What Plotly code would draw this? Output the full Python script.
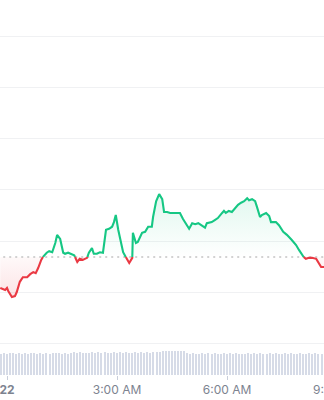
import plotly.graph_objects as go

# ---- data ----
minutes = [-11, -3, 0, 2, 8, 13, 16, 21, 26, 33, 38, 43, 47, 51, 56, 59, 65, 69, 74, 79, 82, 87, 92, 95, 100,
           106, 110, 115, 119, 124, 131, 134, 139, 142, 147, 152, 157, 162, 167, 172, 175, 178, 182, 187, 190,
           196, 200, 205, 206, 211, 214, 221, 226, 231, 237, 239, 244, 249, 254, 257, 262, 267, 275, 283, 288,
           295, 298, 303, 308, 313, 319, 324, 327, 335, 340, 345, 352, 355, 358, 363, 368, 373, 378, 383, 388,
           393, 396, 401, 406, 409, 414, 417, 424, 429, 432, 440, 445, 452, 458, 466, 473, 478, 483, 489, 494,
           499, 506, 511, 514, 519]
prices = [27008, 27004, 27008, 27002, 26990, 26992, 27000, 27020, 27029, 27029, 27035, 27039, 27037, 27047, 27063,
          27069, 27077, 27080, 27078, 27096, 27112, 27104, 27077, 27075, 27077,
          27073, 27072, 27059, 27065, 27063, 27067, 27077, 27086, 27075, 27075, 27078, 27077, 27122, 27124, 27128,
          27137, 27151, 27122, 27096, 27078,
          27065, 27057, 27067, 27116, 27096, 27098, 27116, 27118, 27128, 27128, 27147, 27178, 27192, 27182, 27157,
          27157, 27155, 27155, 27155, 27143,
          27131, 27124, 27135, 27133, 27135, 27131, 27126, 27135, 27137, 27141, 27145, 27155, 27159, 27155, 27159,
          27157, 27165, 27171, 27175, 27178,
          27184, 27180, 27182, 27178, 27167, 27147, 27151, 27155, 27149, 27137, 27137, 27131, 27118, 27112, 27102,
          27092, 27082, 27071, 27065, 27067,
          27067, 27065, 27053, 27049, 27049]
open_price = 27068.6

vol_minutes = list(range(-10, 516, 5))
volumes = [212, 218, 214, 220, 216, 213, 219, 215, 217, 214, 221, 216, 213, 218, 215, 219, 214, 217, 220, 216, 213, 218, 215,
           223, 226, 222, 228, 224, 225, 221, 227, 223, 226, 224, 229, 225, 222, 227, 224, 226, 223, 228, 225, 224, 227,
           222, 226, 225, 229, 224, 227, 226, 228,
           236, 240, 238, 242, 239, 237, 241, 236,
           216, 214, 218, 213, 215, 217, 212, 216, 214, 219, 213, 215, 217, 212, 216, 214, 218, 213, 215, 212, 217,
           214, 216, 213, 218, 215, 212, 216, 214, 217, 213, 215, 218, 212, 216, 214, 213, 217, 215, 212, 216, 214,
           218, 213, 215]

tick_vals = [0, 180, 360, 540]
tick_text = ["<b>22</b>", "3:00 AM", "6:00 AM", "9:00 AM"]

GREEN = "#16c784"
RED = "#ea3943"

# ---- split the line at the open-price baseline ----
sx, up_line, dn_line, up_fill, dn_fill = [], [], [], [], []
for i in range(len(minutes)):
    x, y = minutes[i], prices[i]
    sx.append(x)
    up_line.append(y if y >= open_price else None)
    dn_line.append(y if y <= open_price else None)
    up_fill.append(max(y, open_price))
    dn_fill.append(min(y, open_price))
    if i + 1 < len(minutes):
        y2 = prices[i + 1]
        if (y - open_price) * (y2 - open_price) < 0:
            t = (open_price - y) / (y2 - y)
            xc = x + t * (minutes[i + 1] - x)
            sx.append(xc)
            up_line.append(open_price)
            dn_line.append(open_price)
            up_fill.append(open_price)
            dn_fill.append(open_price)
base_line = [open_price] * len(sx)

fig = go.Figure()
# green area
fig.add_trace(go.Scatter(x=sx, y=base_line, mode="lines", line=dict(width=0), hoverinfo="skip",
                         xaxis="x", yaxis="y"))
fig.add_trace(go.Scatter(x=sx, y=up_fill, mode="lines", line=dict(width=0), fill="tonexty",
                         fillgradient=dict(type="vertical", start=open_price, stop=max(prices),
                                           colorscale=[[0, "rgba(22,199,132,0.0)"], [1, "rgba(22,199,132,0.13)"]]),
                         hoverinfo="skip", xaxis="x", yaxis="y"))
# red area
fig.add_trace(go.Scatter(x=sx, y=base_line, mode="lines", line=dict(width=0), hoverinfo="skip",
                         xaxis="x", yaxis="y"))
fig.add_trace(go.Scatter(x=sx, y=dn_fill, mode="lines", line=dict(width=0), fill="tonexty",
                         fillgradient=dict(type="vertical", start=min(prices), stop=open_price,
                                           colorscale=[[0, "rgba(234,57,67,0.14)"], [1, "rgba(234,57,67,0.03)"]]),
                         hoverinfo="skip", xaxis="x", yaxis="y"))
# dotted open-price line
fig.add_trace(go.Scatter(x=[minutes[0] - 5, minutes[-1] + 5], y=[open_price, open_price], mode="lines",
                         line=dict(color="#c4c4c4", width=1.5, dash="2px,4px"), hoverinfo="skip",
                         xaxis="x", yaxis="y"))
# price lines
fig.add_trace(go.Scatter(x=sx, y=up_line, mode="lines", line=dict(color=GREEN, width=2.1),
                         connectgaps=False, hoverinfo="skip", xaxis="x", yaxis="y"))
fig.add_trace(go.Scatter(x=sx, y=dn_line, mode="lines", line=dict(color=RED, width=2.1),
                         connectgaps=False, hoverinfo="skip", xaxis="x", yaxis="y"))
# volume
fig.add_trace(go.Bar(x=vol_minutes, y=volumes, width=2.4, marker=dict(color="#d6dbe7", line=dict(width=0)),
                     hoverinfo="skip", xaxis="x2", yaxis="y2"))

xr = [-11.45, 518.7]
fig.update_layout(
    width=324, height=400,
    margin=dict(l=0, r=0, t=0, b=0),
    paper_bgcolor="white", plot_bgcolor="white",
    showlegend=False,
    font=dict(family="Inter, 'Noto Sans', sans-serif", size=12, color="#7d8390"),
    xaxis=dict(range=xr, domain=[0, 1], showgrid=False, zeroline=False, showticklabels=False,
               showline=False, anchor="y"),
    yaxis=dict(range=[26896.1, 27572.5], domain=[0.1375, 1], tick0=27000, dtick=100,
               showgrid=True, gridcolor="#f0f1f3", gridwidth=1, zeroline=False,
               showticklabels=False, showline=False),
    xaxis2=dict(range=xr, domain=[0, 1], anchor="y2", showgrid=False, zeroline=False,
                showline=False, tickmode="array", tickvals=tick_vals[:-1], ticktext=tick_text[:-1],
                ticks="outside", ticklen=4, tickcolor="#c9ceda", tickwidth=1,
                ticklabeloverflow="allow",
                tickfont=dict(size=12, color="#7d8390")),
    yaxis2=dict(range=[0, 300], domain=[0.0625, 0.1375], showgrid=False, zeroline=False,
                showticklabels=False, showline=False),
    bargap=0,
)
# the last time label sits just past the right edge of the axis range:
# place it in paper units derived from the axis scale
last_paper_x = (tick_vals[-1] - xr[0]) / (xr[1] - xr[0])
fig.add_annotation(x=last_paper_x, xref="paper", y=0.0275, yref="paper", yanchor="middle", xanchor="center",
                   text=tick_text[-1], showarrow=False, font=dict(size=12, color="#7d8390"))

fig.write_html("out.html")
